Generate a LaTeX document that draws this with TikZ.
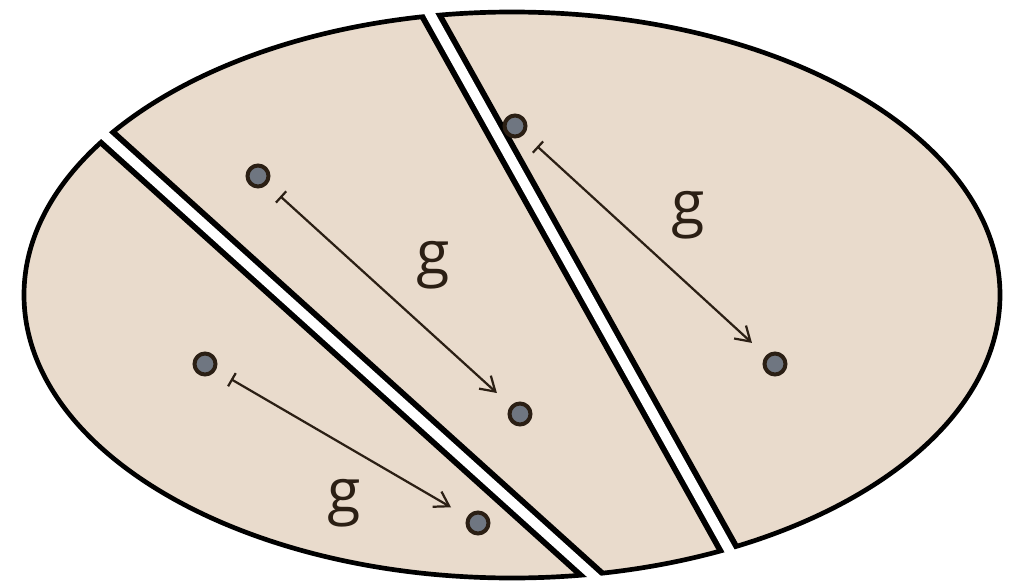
\documentclass[tikz,border=0pt]{standalone}
\usepackage{fontspec}
\setmainfont{Open Sans}
\usepackage{xcolor}
\usetikzlibrary{arrows.meta}

\definecolor{piecefill}{HTML}{E9DBCC}
\definecolor{ink}{HTML}{2B1F14}
\definecolor{ptfill}{HTML}{6F7681}

\begin{document}
\begin{tikzpicture}[
        x=0.03cm, y=-0.03cm,
        piece/.style={draw=black, line width=4pt, fill=piecefill},
        cutedge/.style={draw=black, line width=18.5pt},
        cutgap/.style={draw=white, line width=8.5pt},
        pt/.style={circle, draw=ink, line width=3.4pt, fill=ptfill, minimum size=17.9pt, inner sep=0pt},
        maps/.style={{Bar[width=13pt]}-{Straight Barb[length=12pt, width=15pt]}, draw=ink, line width=1.9pt, shorten <=15pt, shorten >=16pt},
        lbl/.style={text=ink, font=\fontsize{52}{60}\selectfont, inner sep=0pt}
    ]
    \useasboundingbox (0,0) rectangle (1023,584);

    % Ellipse
    \draw[piece] (512,295) ellipse [x radius=488, y radius=283];

    % Cut lines
    \coordinate (cutAtop) at (60,95);
    \coordinate (cutAbot) at (650,627);
    \coordinate (cutBtop) at (411,-20);
    \coordinate (cutBbot) at (757,600);
    \begin{scope}
        \clip (512,295) ellipse [x radius=488, y radius=283];
        \draw[cutedge] (cutAtop) -- (cutAbot);
        \draw[cutedge] (cutBtop) -- (cutBbot);
    \end{scope}
    \draw[cutgap] (cutAtop) -- (cutAbot);
    \draw[cutgap] (cutBtop) -- (cutBbot);

    % Points
    \node[pt] (p1) at (258,176) {};
    \node[pt] (q1) at (520,414) {};
    \node[pt] (p2) at (515,126) {};
    \node[pt] (q2) at (775,364) {};
    \node[pt] (p3) at (205,364) {};
    \node[pt] (q3) at (478,523) {};

    % Maps
    \draw[maps] (p1) -- (q1);
    \draw[maps] (p2) -- (q2);
    \draw[maps] (p3) -- (q3);

    % Labels
    \node[lbl] (g1) at (433,265) {g};
    \node[lbl] (g2) at (688,215) {g};
    \node[lbl] (g3) at (344,503) {g};

\end{tikzpicture}
\end{document}
